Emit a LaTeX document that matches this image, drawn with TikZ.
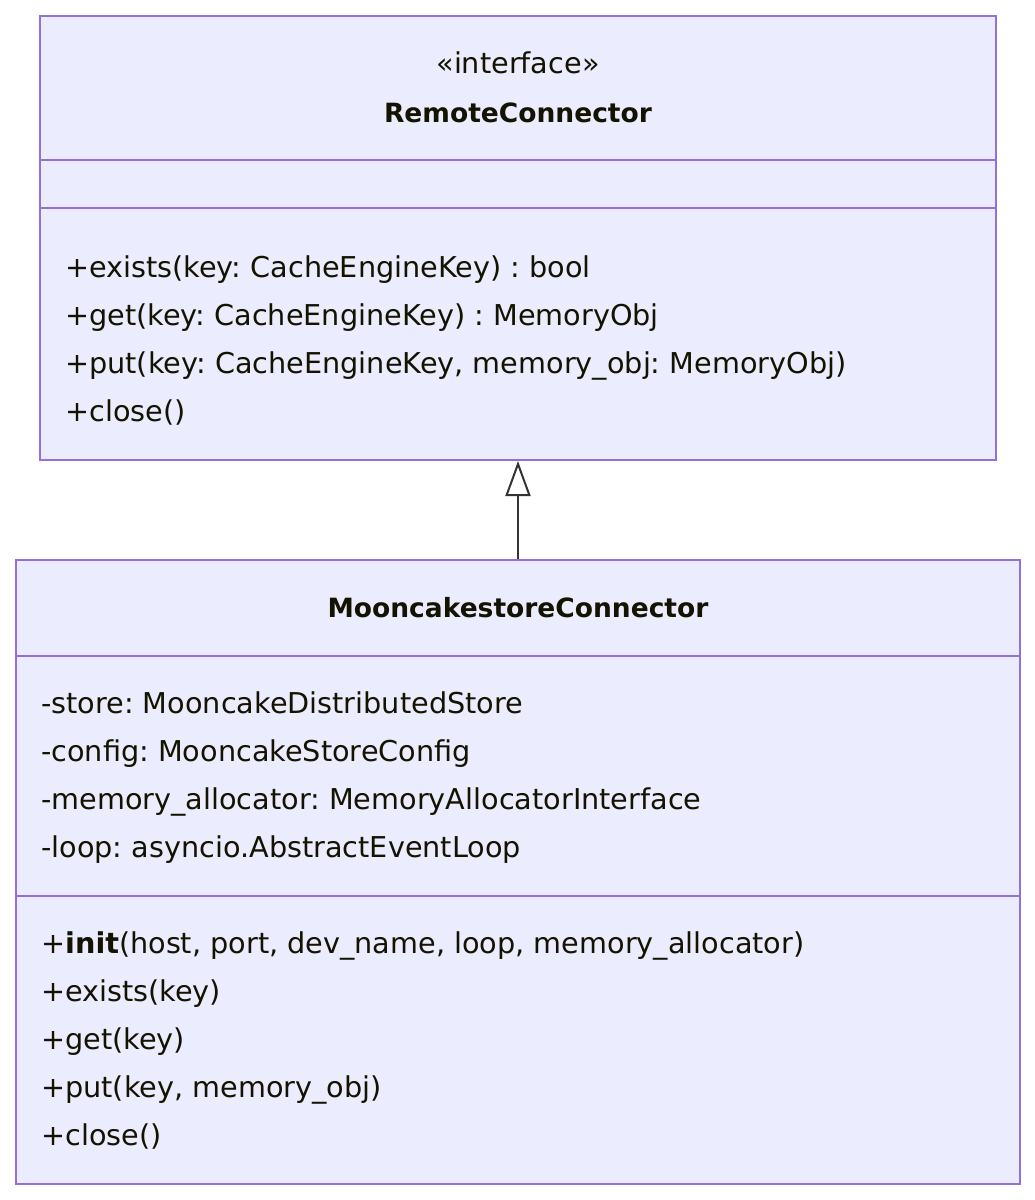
\documentclass[tikz,border=0pt]{standalone}
\usepackage{fontspec}
\setmainfont{DejaVu Sans}
\usepackage{xcolor}
\usetikzlibrary{arrows.meta,positioning}

\definecolor{classfill}{HTML}{ECECFF}
\definecolor{classborder}{HTML}{9370DB}
\definecolor{classtext}{HTML}{131300}
\definecolor{linkcolor}{HTML}{333333}

\tikzset{
    classbox/.style={draw=classborder, fill=classfill, line width=2pt, rectangle, inner sep=0pt},
    divider/.style={draw=classborder, line width=2pt},
    member/.style={anchor=base west, inner sep=0pt, text=classtext, font=\fontsize{28.7}{34}\selectfont},
    stereo/.style={anchor=base, inner sep=0pt, text=classtext, font=\fontsize{28.7}{34}\selectfont},
    title/.style={anchor=base, inner sep=0pt, text=classtext, font=\fontsize{26.5}{32}\selectfont\bfseries},
    realize/.style={draw=linkcolor, line width=2pt, -{Triangle[open, length=35pt, width=25pt, line width=2pt]}}
}

\begin{document}
\frenchspacing
\begin{tikzpicture}[x=1pt, y=-1pt]
    \useasboundingbox (0,0) rectangle (1035,1200);

    % Interface box
    \node[classbox, minimum width=956pt, minimum height=444pt] (remote) at (518,238) {};
    \draw[divider] (remote.west |- 0,160) -- (remote.east |- 0,160);
    \draw[divider] (remote.west |- 0,208) -- (remote.east |- 0,208);
    \node[stereo] (remote_stereo) at (518,73) {«interface»};
    \node[title] (remote_title) at (518,122) {RemoteConnector};
    \node[member] (remote_m1) at (65,277) {+exists(key: CacheEngineKey) : bool};
    \node[member] (remote_m2) at (65,325) {+get(key: CacheEngineKey) : MemoryObj};
    \node[member] (remote_m3) at (65,373) {+put(key: CacheEngineKey, memory\_obj: MemoryObj)};
    \node[member] (remote_m4) at (65,421) {+close()};

    % Implementation box
    \node[classbox, minimum width=1004pt, minimum height=624pt] (mooncake) at (518,872) {};
    \draw[divider] (mooncake.west |- 0,656) -- (mooncake.east |- 0,656);
    \draw[divider] (mooncake.west |- 0,896) -- (mooncake.east |- 0,896);
    \node[title] (mooncake_title) at (518,617) {MooncakestoreConnector};
    \node[member] (mooncake_a1) at (41,713) {-store: MooncakeDistributedStore};
    \node[member] (mooncake_a2) at (41,761) {-config: MooncakeStoreConfig};
    \node[member] (mooncake_a3) at (41,809) {-memory\_allocator: MemoryAllocatorInterface};
    \node[member] (mooncake_a4) at (41,857) {-loop: asyncio.AbstractEventLoop};
    \node[member] (mooncake_m1) at (41,953) {+\textbf{init}(host, port, dev\_name, loop, memory\_allocator)};
    \node[member] (mooncake_m2) at (41,1001) {+exists(key)};
    \node[member] (mooncake_m3) at (41,1049) {+get(key)};
    \node[member] (mooncake_m4) at (41,1097) {+put(key, memory\_obj)};
    \node[member] (mooncake_m5) at (41,1145) {+close()};

    % Realization
    \draw[realize] (mooncake.north) -- (remote.south);
\end{tikzpicture}
\end{document}
